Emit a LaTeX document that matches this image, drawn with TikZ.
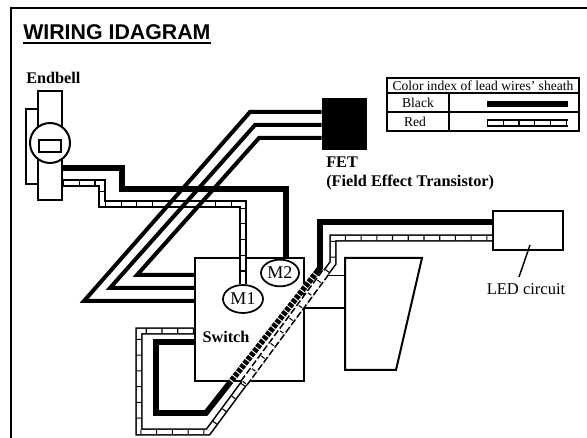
\documentclass[tikz,border=0pt]{standalone}
\usepackage{fontspec}
\setmainfont{Liberation Serif}
\newfontfamily\titlefont{Liberation Sans}
\usetikzlibrary{shapes.geometric}
\tikzset{
  box/.style={draw,line width=1.5pt,inner sep=0pt},
  motor/.style={draw,ellipse,line width=1.3pt,inner sep=0pt,font=\fontsize{13.5}{13.5}\selectfont},
  label/.style={font=\fontsize{12.2}{14.25}\bfseries\selectfont,inner sep=0pt,align=left},
  cell/.style={font=\fontsize{10.2}{12}\selectfont,inner sep=0pt},
  leadwire/.style={line width=3pt,line join=miter},
  thickwire/.style={line width=4.3pt,line join=miter},
  redwire/.style={line width=5.6pt,draw=black,line join=miter,
    postaction={draw=white,line width=3.2pt},
    postaction={draw=black,line width=3.4pt,dash pattern=on 0.8pt off 11pt},
  },
}
\begin{document}
\begin{tikzpicture}[x=0.75pt,y=0.75pt,yscale=-1]
\useasboundingbox (0,0) rectangle (587,438);

%Frame
\draw [line width=1.2pt] (11,438) -- (11,8) -- (587,8);

%Title
\node [font=\titlefont\bfseries\fontsize{16}{16}\selectfont,inner sep=0pt,anchor=west] (title) at (23,32) {WIRING IDAGRAM};
\draw [line width=1.2pt] (23,43) -- (211,43);

%Endbell
\node [label,anchor=west] (endbelltext) at (26,78) {Endbell};
\draw [line width=1.3pt] (38,109) -- (26,109) -- (26,184) -- (38,184);
\node [box,minimum width=18pt,minimum height=81.75pt,fill=white] (endbell) at (50,145.5) {};
\node [draw,circle,line width=1.5pt,minimum size=30pt,inner sep=0pt,fill=white] (rotor) at (50,143) {};
\node [box,minimum width=16.5pt,minimum height=9.5pt,fill=white] (brush) at (50,146) {};

%Switch
\node [box,minimum width=81.75pt,minimum height=92.25pt] (switch) at (249.5,319.5) {};
\node [motor,minimum width=28.5pt,minimum height=20pt] (mtwo) at (280,273) {M2};
\node [motor,minimum width=30pt,minimum height=21pt] (mone) at (243,299) {M1};
\node [label] (switchtext) at (226,337) {Switch};

%FET
\node [draw,fill=black,minimum width=33pt,minimum height=38.25pt,inner sep=0pt] (fet) at (344,123.5) {};
\node [label,anchor=north west] (fettext) at (326,157) {FET\\(Field Effect Transistor)};

%LED box
\node [box,minimum width=52.5pt,minimum height=29.25pt] (led) at (528,230.5) {};
\node [font=\fontsize{12.4}{14}\selectfont,inner sep=0pt] (ledtext) at (526,289) {LED circuit};
\coordinate (ledtip) at (519,277);
\draw [line width=1.1pt] (530,245) -- (ledtip);

%Trapezoid
\draw [line width=1.5pt] (345,258) -- (422,258) -- (396,370) -- (345,370) -- cycle;
\draw [line width=0.7pt] (324,275) -- (345,275);
\draw [line width=1.1pt] (switch.east |- 0,308) -- (345,308);

%Wires to the motors
\draw [thickwire] (endbell.east |- 0,168) -- (122,168) -- (122,189) -- (286,189) -- (286,258);
\draw [redwire] (endbell.east |- 0,183) -- (102,183) -- (102,204) -- (243,204) -- (mone.north);

%Wires to the FET
\draw [leadwire] (fet.west |- 0,112) -- (250,112) -- (84,301) -- (switch.west |- 0,301);
\draw [leadwire] (fet.west |- 0,125) -- (255,125) -- (110,288) -- (switch.west |- 0,288);
\draw [leadwire] (fet.west |- 0,138) -- (259,138) -- (137,275) -- (switch.west |- 0,275);

%Wires to the LED
\draw [redwire] (switch.west |- 0,331) -- (139,331) -- (139,432) -- (208,432) -- (333,263) -- (333,238) -- (led.west |- 0,238);
\draw [thickwire] (switch.west |- 0,342) -- (156,342) -- (156,413) -- (206,413) -- (320,268) -- (320,222) -- (led.west |- 0,222);

%Broken part inside the switch
\draw [line width=5pt,draw=white,dash pattern=on 0.7pt off 3.2pt] (231,381) -- (315,274);
\draw [line width=5.8pt,draw=white] (244,383) -- (326,272);
\draw [line width=1.1pt,dash pattern=on 5pt off 2pt] (241,381) -- (323,270);
\draw [line width=1.1pt,dash pattern=on 5pt off 2pt] (247,385) -- (329,274);
\draw [line width=3pt,dash pattern=on 0.8pt off 11pt] (244,383) -- (326,272);

%Colour table
\node [box,minimum width=144pt,minimum height=39.75pt] (table) at (483,104.5) {};
\coordinate (rowa) at (387,93);
\coordinate (rowb) at (387,112);
\draw [line width=1.1pt] (rowa) -- (579,93);
\draw [line width=1.1pt] (rowb) -- (579,112);
\draw [line width=1.1pt] (449,93) -- (449,131);
\node [cell] (tabletext) at (483,85.5) {Color index of lead wires' sheath};
\node [cell] (blacktext) at (418,103) {Black};
\node [cell] (redtext) at (415,122) {Red};
\draw [thickwire] (487,104) -- (568,104);
\draw [redwire] (487,123) -- (568,123);
\end{tikzpicture}
\end{document}
